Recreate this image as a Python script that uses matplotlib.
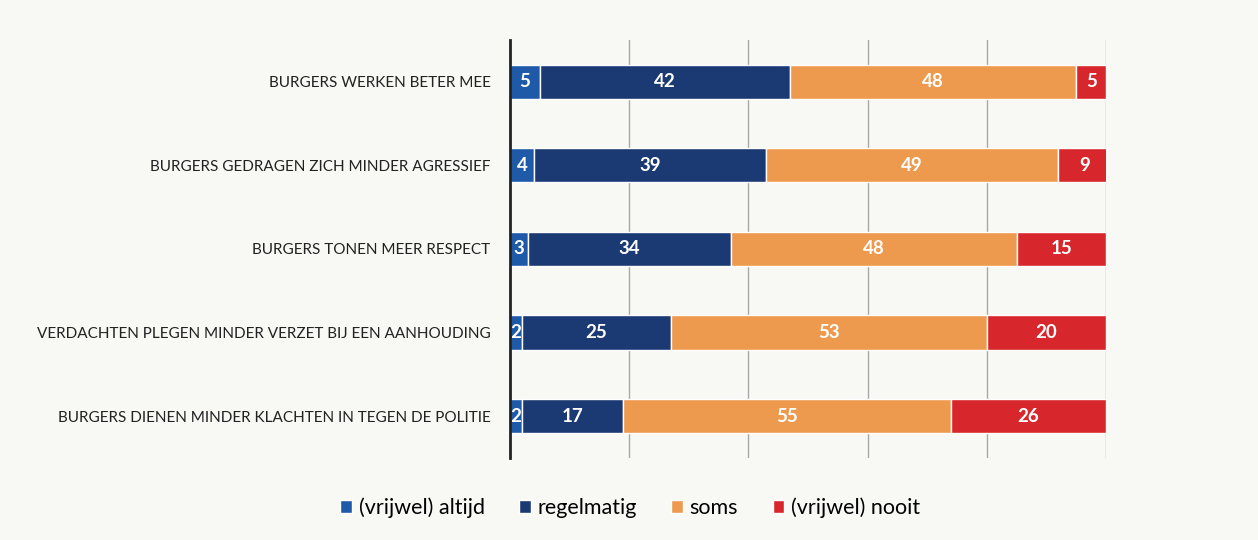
import numpy as np
import matplotlib.pyplot as plt

categories = [
    "BURGERS WERKEN BETER MEE",
    "BURGERS GEDRAGEN ZICH MINDER AGRESSIEF",
    "BURGERS TONEN MEER RESPECT",
    "VERDACHTEN PLEGEN MINDER VERZET BIJ EEN AANHOUDING",
    "BURGERS DIENEN MINDER KLACHTEN IN TEGEN DE POLITIE",
]
series_names = ["(vrijwel) altijd", "regelmatig", "soms", "(vrijwel) nooit"]
altijd = [5, 4, 3, 2, 2]
regelmatig = [42, 39, 34, 25, 17]
soms = [48, 49, 48, 53, 55]
nooit = [5, 9, 15, 20, 26]

colors = ["#1f5aa8", "#1b3a73", "#ee9a4e", "#d8272c"]
bg = "#f8f9f4"

plt.rcParams['font.family'] = ['Lato', 'DejaVu Sans']

fig = plt.figure(figsize=(12.58, 5.4), dpi=100, facecolor=bg)
ax = fig.add_axes([0.4054, 0.152, 0.4738, 0.774])
ax.set_facecolor(bg)

y = np.arange(len(categories))
left = np.zeros(len(categories))
for name, vals, c in zip(series_names, [altijd, regelmatig, soms, nooit], colors):
    vals = np.array(vals, dtype=float)
    ax.barh(y, vals, left=left, height=0.41, color=c, edgecolor="white",
            linewidth=1, label=name, zorder=3)
    for yi, l, v in zip(y, left, vals):
        ax.text(l + v / 2, yi, f"{int(v)}", ha="center", va="center",
                color="white", fontsize=13.5, fontweight="bold", zorder=4)
    left += vals

ax.set_xlim(0, 100)
ax.set_ylim(len(categories) - 0.5, -0.5)
ax.set_yticks(y)
ax.set_yticklabels(categories, fontsize=11, color="#222222")
ax.set_xticks([20, 40, 60, 80, 100])
ax.set_xticklabels([])
ax.tick_params(axis="both", length=0, pad=14)
ax.grid(axis="x", color="#a8a8a8", linewidth=1, zorder=0)
for s in ["top", "right", "bottom"]:
    ax.spines[s].set_visible(False)
ax.spines["left"].set_color("#222222")
ax.spines["left"].set_linewidth(2)
ax.spines["left"].set_zorder(5)

fig.legend(loc="center", bbox_to_anchor=(0.501, 0.06), ncol=4, frameon=False,
           fontsize=15.5, handlelength=0.55, handleheight=0.55, handletextpad=0.3,
           columnspacing=1.6)

fig.savefig("out.png", dpi=100, facecolor=bg)
